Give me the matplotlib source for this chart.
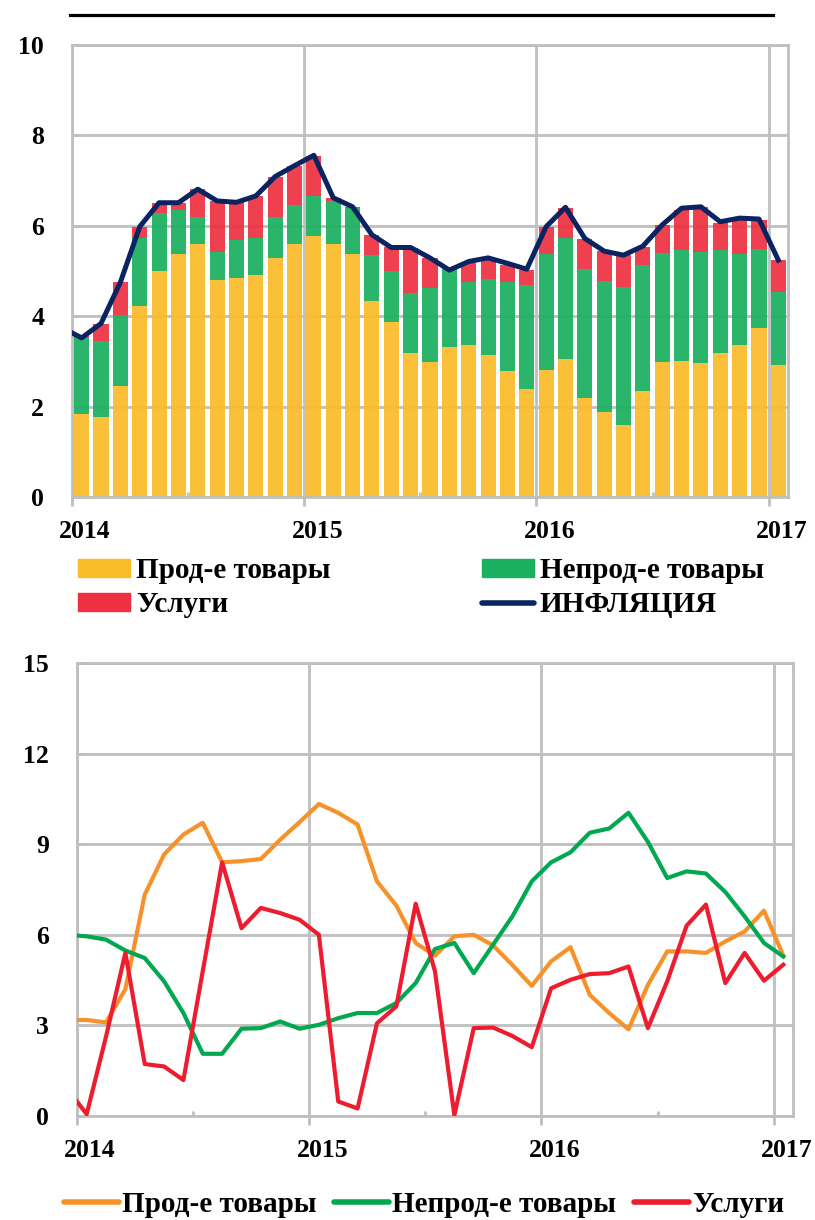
# Inflation structure: contributions (top) and y/y growth by component (bottom)

import numpy as np
import matplotlib.pyplot as plt
from matplotlib.lines import Line2D
from matplotlib.patches import Patch
import matplotlib.transforms as mtransforms

plt.rcParams['font.family'] = ['Liberation Serif', 'DejaVu Serif']
plt.rcParams['font.weight'] = 'bold'

# ---- data: monthly, Jan 2014 .. Jan 2017 ----
year_labels = ["2014", "2015", "2016", "2017"]

# contributions to inflation, p.p.
food_contrib = [1.83, 1.76, 2.46, 4.23, 5.00, 5.37, 5.59, 4.80, 4.85, 4.91, 5.28, 5.60, 5.77,
                5.60, 5.38, 4.34, 3.88, 3.19, 2.98, 3.31, 3.36, 3.14, 2.79, 2.40, 2.81,
                3.06, 2.18, 1.87, 1.59, 2.35, 2.98, 3.00, 2.96, 3.19, 3.36, 3.75, 2.91]
nonfood_contrib = [1.72, 1.69, 1.57, 1.51, 1.28, 0.98, 0.60, 0.61, 0.84, 0.83, 0.91, 0.85, 0.89,
                   0.95, 1.01, 1.01, 1.11, 1.32, 1.64, 1.71, 1.40, 1.69, 1.97, 2.30, 2.56,
                   2.68, 2.86, 2.91, 3.06, 2.78, 2.42, 2.47, 2.46, 2.27, 2.02, 1.74, 1.62]
services_contrib = [0.02, 0.37, 0.72, 0.24, 0.22, 0.16, 0.62, 1.14, 0.83, 0.92, 0.90, 0.88, 0.88,
                    0.07, 0.03, 0.45, 0.53, 0.99, 0.67, 0.02, 0.41, 0.41, 0.37, 0.32, 0.61,
                    0.65, 0.67, 0.66, 0.70, 0.41, 0.62, 0.89, 0.99, 0.61, 0.74, 0.64, 0.71]

# the lines start at Dec 2013 (first point falls outside the axis)
inflation = [3.74, 3.52, 3.84, 4.75, 5.98, 6.51, 6.51, 6.81, 6.55, 6.52, 6.66, 7.09, 7.33,
             7.56, 6.62, 6.42, 5.80, 5.52, 5.52, 5.29, 5.02, 5.21, 5.29, 5.17, 5.04,
             5.98, 6.41, 5.72, 5.44, 5.35, 5.55, 6.02, 6.39, 6.42, 6.09, 6.17, 6.15, 5.24]

# y/y growth, %
food_yoy = [3.18, 3.18, 3.10, 4.20, 7.33, 8.66, 9.32, 9.71, 8.40, 8.44, 8.51, 9.15, 9.73,
            10.33, 10.04, 9.65, 7.77, 6.97, 5.73, 5.31, 5.95, 6.00, 5.65, 5.00, 4.31,
            5.12, 5.59, 4.01, 3.41, 2.87, 4.34, 5.45, 5.45, 5.40, 5.78, 6.11, 6.80, 5.31]
nonfood_yoy = [6.00, 5.95, 5.84, 5.48, 5.23, 4.46, 3.41, 2.06, 2.06, 2.89, 2.91, 3.13, 2.89,
               3.02, 3.24, 3.41, 3.41, 3.74, 4.40, 5.53, 5.73, 4.73, 5.67, 6.61, 7.77,
               8.40, 8.73, 9.38, 9.52, 10.04, 9.08, 7.88, 8.10, 8.03, 7.42, 6.61, 5.73, 5.28]
services_yoy = [0.90, 0.06, 2.63, 5.40, 1.72, 1.64, 1.19, 4.80, 8.40, 6.22, 6.89, 6.72, 6.50,
                6.00, 0.48, 0.25, 3.07, 3.63, 7.03, 4.79, 0.03, 2.91, 2.93, 2.65, 2.28,
                4.23, 4.51, 4.70, 4.73, 4.95, 2.91, 4.46, 6.30, 7.00, 4.40, 5.40, 4.48, 5.01]

# colours
c_food, c_nonfood, c_serv, c_infl = "#FBBC2A", "#19B060", "#EE3142", "#0A2462"
c_food2, c_nonfood2, c_serv2 = "#F7922B", "#00A84F", "#ED1C2E"
grid_c = "#BFBFBF"

n = len(food_contrib)
x = np.arange(n)
x_line = np.arange(-1, n)
year_pos = [-0.5, 11.5, 23.5, 35.5]

fig = plt.figure(figsize=(8.15, 12.2), dpi=100)
W, H = 815, 1220
ax1 = fig.add_axes([72 / W, 1 - 497 / H, 716 / W, 452 / H])
ax2 = fig.add_axes([77 / W, 1 - 1116 / H, 716 / W, 453 / H])


def style_axis(ax, yticks):
    ax.set_xlim(-0.5, n - 0.5)
    ax.set_ylim(yticks[0], yticks[-1])
    ax.set_yticks(yticks)
    ax.set_xticks(year_pos)
    ax.set_xticklabels(year_labels)
    ax.set_xticks([5.5, 17.5, 29.5], minor=True)
    ax.set_axisbelow(True)
    ax.grid(True, which="major", color=grid_c, lw=2)
    for s in ax.spines.values():
        s.set_color(grid_c)
        s.set_linewidth(2)
    ax.tick_params(axis="x", which="major", direction="out", length=6.5, width=2,
                   color=grid_c, labelsize=18.5, pad=10)
    ax.tick_params(axis="x", which="minor", direction="in", length=3.5, width=2, color=grid_c)
    ax.tick_params(axis="y", which="major", direction="in", length=5.5, width=2,
                   color=grid_c, labelsize=18.5, pad=20)
    # year labels sit a little right of the gridline
    offset = mtransforms.ScaledTranslation(0.13, 0, fig.dpi_scale_trans)
    for lab in ax.get_xticklabels():
        lab.set_transform(lab.get_transform() + offset)
        lab.set_fontweight("bold")
    for lab in ax.get_yticklabels():
        lab.set_fontweight("bold")


# ---- top: stacked contributions ----
bw = 0.78
bot2 = np.array(food_contrib) + np.array(nonfood_contrib)
ax1.bar(x, food_contrib, bw, color=c_food, alpha=0.93, zorder=2)
ax1.bar(x, nonfood_contrib, bw, bottom=food_contrib, color=c_nonfood, alpha=0.93, zorder=2)
ax1.bar(x, services_contrib, bw, bottom=bot2, color=c_serv, alpha=0.93, zorder=2)
ax1.plot(x_line, inflation, color=c_infl, lw=3.6, zorder=4, solid_joinstyle="round")
style_axis(ax1, [0, 2, 4, 6, 8, 10])

# ---- bottom: y/y growth lines ----
ax2.plot(x_line, food_yoy, color=c_food2, lw=3, zorder=3)
ax2.plot(x_line, nonfood_yoy, color=c_nonfood2, lw=3, zorder=3)
ax2.plot(x_line, services_yoy, color=c_serv2, lw=3, zorder=4)
style_axis(ax2, [0, 3, 6, 9, 12, 15])

# rule above the top chart
fig.add_artist(Line2D([70 / W, 773 / W], [1 - 15 / H] * 2, color="black", lw=2.3))

# legends
leg_font = {"size": 21, "weight": "bold"}
h_top = [Patch(color=c_food), Patch(color=c_serv), Patch(color=c_nonfood),
         Line2D([], [], color=c_infl, lw=4, solid_capstyle="round")]
l_top = ["Прод-е товары", "Услуги", "Непрод-е товары", "ИНФЛЯЦИЯ"]
fig.legend(h_top, l_top, loc="upper left", bbox_to_anchor=(78 / W, 1 - 557 / H), ncol=2,
           frameon=False, prop=leg_font, handlelength=1.78, handleheight=0.58,
           handletextpad=0.2, columnspacing=5.2, labelspacing=0.25,
           borderpad=0, borderaxespad=0)

h_bot = [Line2D([], [], color=c, lw=4, solid_capstyle="round")
         for c in (c_food2, c_nonfood2, c_serv2)]
l_bot = ["Прод-е товары", "Непрод-е товары", "Услуги"]
fig.legend(h_bot, l_bot, loc="center", bbox_to_anchor=(424 / W, 1 - 1205 / H), ncol=3,
           frameon=False, prop=leg_font, handlelength=1.88,
           handletextpad=0.1, columnspacing=0.62, borderpad=0, borderaxespad=0)

fig.savefig("out.png", dpi=100)
